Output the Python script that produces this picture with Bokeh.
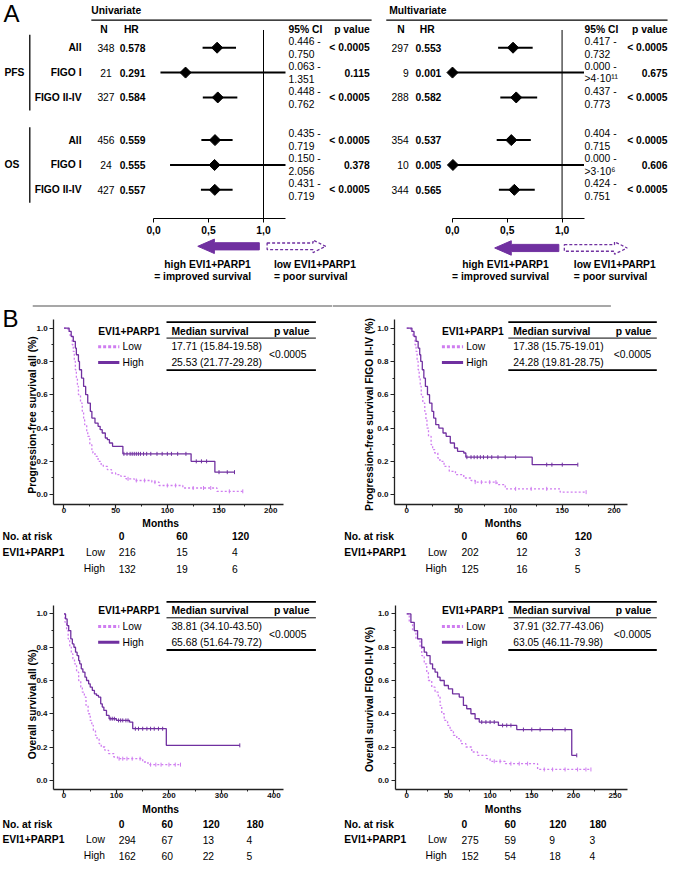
import numpy as np
from bokeh.plotting import figure
from bokeh.models import (Range1d, LinearAxis, FixedTicker, SingleIntervalTicker,
                          NumeralTickFormatter, CustomJSTickFormatter)
from bokeh.layouts import column, row
from bokeh.embed import file_html
from bokeh.resources import INLINE
from bokeh.core.properties import value

# ======================= DATA =======================
outcomes = ["PFS", "OS"]
subgroups = ["All", "FIGO I", "FIGO II-IV"]

uni_n = [348, 21, 327, 456, 24, 427]
uni_hr = [0.578, 0.291, 0.584, 0.559, 0.555, 0.557]
uni_ci_low = [0.446, 0.063, 0.448, 0.435, 0.150, 0.431]
uni_ci_high = [0.750, 1.351, 0.762, 0.719, 2.056, 0.719]
uni_ci_high_text = ["0.750", "1.351", "0.762", "0.719", "2.056", "0.719"]
uni_p = ["< 0.0005", "0.115", "< 0.0005", "< 0.0005", "0.378", "< 0.0005"]

multi_n = [297, 9, 288, 354, 10, 344]
multi_hr = [0.553, 0.001, 0.582, 0.537, 0.005, 0.565]
multi_ci_low = [0.417, 0.000, 0.437, 0.404, 0.000, 0.424]
multi_ci_high = [0.732, 4e11, 0.773, 0.715, 3e6, 0.751]
multi_ci_high_text = ["0.732", ">4·10¹¹", "0.773", "0.715", ">3·10⁶", "0.751"]
multi_p = ["< 0.0005", "0.675", "< 0.0005", "< 0.0005", "0.606", "< 0.0005"]

hr_ticks = [0.0, 0.5, 1.0]
hr_axis_max = 1.2

# Kaplan-Meier curves (months, survival after step)
km1_high_t = [0, 5, 7, 9, 11, 12, 14, 15, 17, 19, 21, 23, 25.5, 27, 30, 33, 35, 37, 40, 42, 44, 47, 57, 123, 146, 165]
km1_high_s = [1.0, 0.98, 0.95, 0.92, 0.88, 0.84, 0.80, 0.75, 0.70, 0.65, 0.60, 0.55, 0.50, 0.46, 0.43, 0.41, 0.39, 0.37, 0.34, 0.33, 0.31, 0.29, 0.245, 0.20, 0.135, 0.135]
km1_low_t = [0, 4, 6, 8, 9, 10, 11, 12, 13, 14, 16, 17.7, 19, 20, 22, 23, 25, 27, 28, 30, 33, 36, 38, 42, 46, 50, 55, 60, 68, 85, 92, 115, 148, 173]
km1_low_s = [1.0, 0.98, 0.95, 0.9, 0.86, 0.8, 0.75, 0.7, 0.65, 0.6, 0.55, 0.5, 0.45, 0.42, 0.38, 0.35, 0.3, 0.27, 0.25, 0.23, 0.2, 0.18, 0.17, 0.15, 0.13, 0.12, 0.11, 0.095, 0.085, 0.075, 0.055, 0.04, 0.02, 0.02]
km1_high_cens = [58, 61, 64, 66, 68, 70, 72, 74, 77, 80, 84, 90, 95, 100, 104, 110, 118, 128, 133, 138, 150, 158, 165]
km1_low_cens = [62, 70, 78, 88, 100, 108, 125, 135, 142, 160, 173]

km2_high_t = [0, 5, 7, 9, 11, 12.5, 13.5, 15, 16.5, 18, 20, 22, 24.3, 26, 28, 31, 35, 38, 42, 46, 49, 55, 57, 121, 165]
km2_high_s = [1.0, 0.98, 0.95, 0.92, 0.88, 0.84, 0.80, 0.75, 0.70, 0.65, 0.60, 0.55, 0.50, 0.46, 0.42, 0.40, 0.37, 0.35, 0.31, 0.28, 0.26, 0.25, 0.225, 0.18, 0.18]
km2_low_t = [0, 4, 6, 8, 9, 10, 11, 12, 13, 14, 15.5, 17.4, 18.5, 19.5, 21, 23.5, 25, 27, 30, 32, 36, 41, 47, 55, 62, 66, 87, 95, 148, 173]
km2_low_s = [1.0, 0.98, 0.95, 0.9, 0.86, 0.8, 0.75, 0.7, 0.65, 0.6, 0.55, 0.5, 0.45, 0.4, 0.35, 0.3, 0.27, 0.25, 0.22, 0.2, 0.17, 0.14, 0.12, 0.1, 0.085, 0.075, 0.06, 0.035, 0.015, 0.015]
km2_high_cens = [58, 62, 65, 68, 71, 74, 78, 82, 88, 95, 105, 135, 140, 150, 165]
km2_low_cens = [66, 72, 80, 86, 105, 120, 135, 173]

km3_high_t = [0, 3, 6, 9, 13, 16, 19, 22, 25, 28, 30, 33, 36, 40, 43, 47, 50, 54, 58, 62, 65.7, 70, 73, 76, 81, 86, 100, 125, 131, 195, 335]
km3_high_s = [1.0, 0.97, 0.93, 0.9, 0.85, 0.82, 0.8, 0.77, 0.75, 0.72, 0.7, 0.67, 0.65, 0.62, 0.6, 0.58, 0.56, 0.54, 0.52, 0.51, 0.5, 0.46, 0.44, 0.42, 0.39, 0.37, 0.36, 0.35, 0.31, 0.21, 0.21]
km3_low_t = [0, 2, 5, 8, 11, 14, 17, 20, 24, 28, 32, 35, 38.8, 42, 46, 50, 53, 56, 60, 63, 67, 71, 78, 85, 95, 102, 150, 160, 222]
km3_low_s = [1.0, 0.95, 0.9, 0.85, 0.8, 0.76, 0.73, 0.7, 0.65, 0.6, 0.56, 0.53, 0.5, 0.45, 0.4, 0.36, 0.33, 0.3, 0.27, 0.25, 0.22, 0.2, 0.18, 0.16, 0.14, 0.13, 0.11, 0.094, 0.094]
km3_high_cens = [88, 92, 96, 104, 108, 112, 118, 122, 136, 142, 150, 158, 165, 172, 180, 188, 335]
km3_low_cens = [105, 112, 120, 130, 145, 165, 175, 185, 200, 212, 222]

km4_high_t = [0, 5, 9, 13, 18, 21, 24, 28, 31, 34, 37, 40, 45, 50, 55, 63, 68, 72, 77, 82, 87, 110, 132, 198, 204]
km4_high_s = [1.0, 0.95, 0.9, 0.85, 0.8, 0.77, 0.75, 0.7, 0.67, 0.65, 0.62, 0.6, 0.57, 0.55, 0.52, 0.5, 0.45, 0.43, 0.4, 0.37, 0.35, 0.33, 0.305, 0.15, 0.15]
km4_low_t = [0, 3, 7, 11, 16, 18, 21, 24, 26, 30, 34, 37.9, 40, 42, 45, 49, 52, 56, 60, 65, 71, 78, 85, 96, 100, 118, 157, 221]
km4_low_s = [1.0, 0.95, 0.9, 0.85, 0.8, 0.75, 0.7, 0.65, 0.6, 0.56, 0.53, 0.5, 0.45, 0.4, 0.36, 0.33, 0.3, 0.27, 0.25, 0.22, 0.2, 0.17, 0.15, 0.13, 0.114, 0.1, 0.065, 0.065]
km4_high_cens = [90, 95, 100, 105, 115, 120, 125, 140, 150, 160, 175, 190, 204]
km4_low_cens = [105, 112, 125, 135, 145, 165, 175, 190, 205, 215, 221]

km1_risk_t = [0, 60, 120]; km1_risk_low = [216, 15, 4]; km1_risk_high = [132, 19, 6]
km2_risk_t = [0, 60, 120]; km2_risk_low = [202, 12, 3]; km2_risk_high = [125, 16, 5]
km3_risk_t = [0, 60, 120, 180]; km3_risk_low = [294, 67, 13, 4]; km3_risk_high = [162, 60, 22, 5]
km4_risk_t = [0, 60, 120, 180]; km4_risk_low = [275, 59, 9, 3]; km4_risk_high = [152, 54, 18, 4]

km1_median = ["17.71 (15.84-19.58)", "25.53 (21.77-29.28)"]
km2_median = ["17.38 (15.75-19.01)", "24.28 (19.81-28.75)"]
km3_median = ["38.81 (34.10-43.50)", "65.68 (51.64-79.72)"]
km4_median = ["37.91 (32.77-43.06)", "63.05 (46.11-79.98)"]
km_pvalue = "<0.0005"

# ======================= STYLE / LAYOUT =======================
SX = 669 / 685
SY = 862 / 878
FONT = "Liberation Sans"
FS = 10.3
PURPLE = "#7030A0"
HIGH_C = "#7030A0"
LOW_C = "#CF7DF0"


def lin(a, pa, b, pb):
    k = (b - a) / (pb - pa)
    return lambda px: a + (px - pa) * k


def canvas(x0, x1, y0, y1, fx, fy):
    w = round(x1 * SX) - round(x0 * SX)
    h = round(y1 * SY) - round(y0 * SY)
    p = figure(width=w, height=h, x_range=Range1d(fx(x0), fx(x1)),
               y_range=Range1d(fy(y1), fy(y0)), x_axis_type=None, y_axis_type=None,
               toolbar_location=None, output_backend="svg", min_border=0,
               outline_line_color=None, background_fill_color="white",
               border_fill_color="white")
    p.extra_x_ranges = {"px": Range1d(x0, x1)}
    p.extra_y_ranges = {"px": Range1d(y1, y0)}
    return p


def T(p, x, y, s, size=FS, bold=False, align="left", angle=0.0, color="black",
      xr="px", yr="px"):
    if not isinstance(s, (list, tuple)):
        x, y, s = [x], [y], [s]
    else:
        if not isinstance(x, (list, tuple, np.ndarray)):
            x = [x] * len(s)
        if not isinstance(y, (list, tuple, np.ndarray)):
            y = [y] * len(s)
    p.text(x=list(x), y=list(y), text=[str(v) for v in s], x_range_name=xr,
           y_range_name=yr, text_font=value(FONT), text_font_size=f"{size}px",
           text_font_style="bold" if bold else "normal", text_align=align,
           text_baseline="middle", angle=angle, text_color=color)


def L(p, xa, ya, xb, yb, w=1.0, color="black", dash="solid"):
    p.segment(x0=[xa], y0=[ya], x1=[xb], y1=[yb], x_range_name="px",
              y_range_name="px", line_width=w, line_color=color, line_dash=dash)


def arrow(p, xt, xh, y, shaft, head, hlen, solid):
    s = 1 if xh > xt else -1
    xb = xh - s * hlen
    xs = [xt, xb, xb, xh, xb, xb, xt]
    ys = [y - shaft / 2, y - shaft / 2, y - head / 2, y, y + head / 2, y + shaft / 2, y + shaft / 2]
    if solid:
        p.patch(xs, ys, x_range_name="px", y_range_name="px", fill_color=PURPLE,
                line_color=PURPLE, line_width=1)
    else:
        p.patch(xs, ys, x_range_name="px", y_range_name="px", fill_color="white",
                line_color=PURPLE, line_width=1.3, line_dash="3 2")


def style_axis(ax, size, standoff):
    ax.axis_line_color = "#222"
    ax.axis_line_width = 1.3
    ax.major_tick_line_color = "#222"
    ax.major_tick_line_width = 1.2
    ax.major_tick_out = 4
    ax.major_tick_in = 0
    ax.minor_tick_line_color = "#222"
    ax.minor_tick_out = 2
    ax.minor_tick_in = 0
    ax.major_label_text_font = FONT
    ax.major_label_text_font_size = f"{size}px"
    ax.major_label_text_font_style = "bold"
    ax.major_label_text_color = "#111"
    ax.major_label_standoff = standoff


# forest row positions (row units), groups separated by a gap
GAP = 0.715
row_pos = []
for g, o in enumerate(outcomes):
    for j, s in enumerate(subgroups):
        row_pos.append(g * (len(subgroups) + GAP) + j)
row_pos = np.array(row_pos)


def forest(region, hr0_px, hr1_px, n, hr, lo, hi, hi_txt, pv, lay):
    x0, x1, y0, y1 = region
    fx = lin(0, hr0_px, 1, hr1_px)
    fy = lin(0, 48, 1, 73.3)
    p = canvas(x0, x1, y0, y1, fx, fy)
    # reference line at HR = 1
    p.segment(x0=[1.0], y0=[fy(30)], x1=[1.0], y1=[fy(222)], line_color="black", line_width=1)
    # CI whiskers (clipped at the axis end) and HR diamonds
    p.segment(x0=lo, y0=row_pos, x1=np.minimum(np.array(hi), hr_axis_max), y1=row_pos,
              line_color="black", line_width=2)
    p.scatter(hr, row_pos, marker="square", angle=np.pi / 4, size=7.8, color="black")
    ax = LinearAxis(fixed_location=fy(222), bounds=(0, hr_axis_max),
                    ticker=FixedTicker(ticks=hr_ticks, minor_ticks=[]),
                    formatter=CustomJSTickFormatter(code="return tick.toFixed(1).replace('.', ',')"))
    style_axis(ax, FS, 3)
    ax.axis_line_color = "black"
    ax.axis_line_width = 1
    ax.major_tick_line_color = "black"
    ax.major_tick_line_width = 1
    ax.major_tick_out = 4
    ax.major_label_text_color = "black"
    p.add_layout(ax, "below")

    # title + line
    T(p, lay["title_x"], 10, lay["title"], bold=True)
    L(p, lay["line"][0], 20, lay["line"][1], 20, w=1.2)
    # headers
    T(p, lay["n_hdr"], 29.5, "N", bold=True, align="center")
    T(p, lay["hr_hdr"], 29.5, "HR", bold=True, align="center")
    T(p, lay["ci_x"], 29.5, "95% CI", bold=True)
    T(p, lay["p_x"], 29.5, "p value", bold=True, align="right")
    # columns
    T(p, lay["n_x"], row_pos, [str(v) for v in n], align=lay["n_align"], yr="default")
    T(p, lay["hr_x"], row_pos, [f"{v:.3f}" for v in hr], bold=True, yr="default")
    T(p, lay["ci_x"], row_pos - 0.25, [f"{v:.3f} -" for v in lo], yr="default")
    T(p, lay["ci_x"], row_pos + 0.25, list(hi_txt), yr="default")
    T(p, lay["p_x"], row_pos, list(pv), bold=True, align="right", yr="default")
    # arrows and their captions
    arrow(p, lay["solid"][0], lay["solid"][1], lay["arrow_y"], 7.3, 14.7, 17, True)
    arrow(p, lay["dashed"][0], lay["dashed"][1], lay["arrow_y"], 6.7, 12.7, 13, False)
    T(p, lay["high_cx"], 268, "high EVI1+PARP1", bold=True, align="center")
    T(p, lay["high_cx"] - 5, 281, "= improved survival", bold=True, align="center")
    T(p, lay["low_x"], 268, "low EVI1+PARP1", bold=True)
    T(p, lay["low_x"], 281, "= poor survival", bold=True)
    return p, fy


# ---------- Panel A ----------
fu, fyu = forest((0, 385, 0, 298), 156.7, 269.3, uni_n, uni_hr, uni_ci_low, uni_ci_high,
                 uni_ci_high_text, uni_p,
                 dict(title="Univariate", title_x=93, line=(93, 380), n_hdr=106, hr_hdr=134,
                      n_x=108, n_align="center", hr_x=122, ci_x=295, p_x=378,
                      solid=(265, 202), dashed=(273, 333), arrow_y=250, high_cx=212, low_x=280))
T(fu, 3, 13, "A", size=24)
# outcome groups, brackets and subgroup labels
for g, o in enumerate(outcomes):
    rp = row_pos[g * len(subgroups):(g + 1) * len(subgroups)]
    T(fu, 4, rp[1], o, bold=True, yr="default")
    fu.segment(x0=[30], y0=[rp[0] - 0.52], x1=[30], y1=[rp[-1] + 0.52], x_range_name="px",
               line_color="black", line_width=1.3)
    T(fu, 83, rp, subgroups, bold=True, align="right", yr="default")

fm, fym = forest((385, 685, 0, 298), 462.7, 575, multi_n, multi_hr, multi_ci_low, multi_ci_high,
                 multi_ci_high_text, multi_p,
                 dict(title="Multivariate", title_x=398, line=(395, 683), n_hdr=410, hr_hdr=437,
                      n_x=418, n_align="right", hr_x=425, ci_x=598, p_x=683,
                      solid=(571.7, 506), dashed=(577.3, 641.7), arrow_y=251.7, high_cx=517,
                      low_x=587))


# ---------- Panel B ----------
def surv_at(t, s, ct):
    idx = np.searchsorted(np.array(t), np.array(ct), side="right") - 1
    return np.array(s)[idx]


def km(cfg, ht, hs, lt, ls, hc, lc, risk_t, risk_low, risk_high, med, ylabel):
    x0, x1, y0, y1 = cfg["region"]
    fx = lin(0, cfg["m0"], cfg["m1"][0], cfg["m1"][1])
    fy = lin(0, cfg["s0"], 1, cfg["s1"])
    p = canvas(x0, x1, y0, y1, fx, fy)

    xax = LinearAxis(fixed_location=fy(cfg["xaxis_y"]),
                     bounds=(fx(cfg["yaxis_x"]), fx(cfg["xright"])),
                     ticker=SingleIntervalTicker(interval=cfg["xstep"], num_minor_ticks=2))
    style_axis(xax, 8, 0)
    yax = LinearAxis(fixed_location=fx(cfg["yaxis_x"]),
                     bounds=(fy(cfg["xaxis_y"]), fy(cfg["ytop"])),
                     ticker=SingleIntervalTicker(interval=0.2, num_minor_ticks=2),
                     formatter=NumeralTickFormatter(format="0.0"))
    style_axis(yax, 8, 2)
    p.add_layout(xax, "below")
    p.add_layout(yax, "left")

    # curves
    p.step(lt, ls, mode="after", line_color=LOW_C, line_width=1.3, line_dash="2 2")
    p.step(ht, hs, mode="after", line_color=HIGH_C, line_width=1.3)
    p.scatter(lc, surv_at(lt, ls, lc), marker="dash", angle=np.pi / 2, size=4,
              line_color=LOW_C, line_width=1)
    p.scatter(hc, surv_at(ht, hs, hc), marker="dash", angle=np.pi / 2, size=4,
              line_color=HIGH_C, line_width=1)

    # axis titles
    T(p, cfg["months_x"], cfg["months_y"], "Months", bold=True, align="center")
    T(p, cfg["ylab"][0], cfg["ylab"][1], ylabel, bold=True, align="center", angle=np.pi / 2)

    # legend + median table
    ty = cfg["top_y"]
    lx = cfg["leg_x"]
    T(p, lx, ty + 9.2, "EVI1+PARP1", bold=True)
    L(p, lx, ty + 25, lx + 21.7, ty + 25, w=3, color=LOW_C, dash="3 2")
    L(p, lx, ty + 41, lx + 21.7, ty + 41, w=3, color=HIGH_C)
    T(p, lx + 25, ty + 25, "Low")
    T(p, lx + 25, ty + 41, "High")
    ta, tb = cfg["tab"]
    L(p, ta, ty, tb, ty, w=1.8)
    L(p, ta, ty + 16.2, tb, ty + 16.2, w=1)
    L(p, ta, ty + 49, tb, ty + 49, w=1.8)
    T(p, cfg["med_x"], ty + 9.2, "Median survival", bold=True)
    T(p, cfg["p_x"], ty + 9.2, "p value", bold=True)
    T(p, cfg["med_x"], ty + 25, med[0])
    T(p, cfg["med_x"], ty + 41, med[1])
    T(p, cfg["pv_x"], ty + 33.3, km_pvalue)

    # numbers at risk
    ry = cfg["risk_y"]
    cols = cfg["risk_cols"]
    T(p, cfg["risk_x"], ry[0], "No. at risk", bold=True)
    T(p, cols, ry[0], [str(v) for v in risk_t], bold=True)
    T(p, cfg["risk_x"], ry[1], "EVI1+PARP1", bold=True)
    T(p, cfg["risk_lab"], ry[1], "Low", align="right")
    T(p, cfg["risk_lab"], ry[2], "High", align="right")
    T(p, cols, ry[1], [str(v) for v in risk_low])
    T(p, cols, ry[2], [str(v) for v in risk_high])
    return p


row1 = dict(s0=503.3, s1=333.3, xaxis_y=513.3, ytop=325, months_y=533, top_y=327.3,
            risk_y=(546, 562.3, 579))
row2 = dict(s0=794.3, s1=625, xaxis_y=803.3, ytop=616.7, months_y=824, top_y=612.7,
            risk_y=(839, 855, 871))
left = dict(leg_x=100, tab=(170, 323), med_x=175, p_x=280, pv_x=275, risk_x=2, risk_lab=107,
            months_x=164, m0=65)
right = dict(leg_x=452, tab=(520, 672), med_x=525, p_x=630, pv_x=628, risk_x=352, risk_lab=457,
             months_x=514.7, m0=416)

cfg1 = dict(**row1, **left, region=(0, 340, 298, 595), m1=(200, 276.7), yaxis_x=54.5,
            xright=290, xstep=50, ylab=(33, 422), risk_cols=[121, 180, 237])
cfg2 = dict(**row1, **right, region=(340, 685, 298, 595), m1=(200, 628.3), yaxis_x=403.3,
            xright=642, xstep=50, ylab=(378, 421.5), risk_cols=[472, 528, 588])
cfg3 = dict(**row2, **left, region=(0, 340, 595, 878), m1=(400, 280), yaxis_x=54.3,
            xright=290, xstep=100, ylab=(33, 717), risk_cols=[121, 165, 207, 252])
cfg4 = dict(**row2, **right, region=(340, 685, 595, 878), m1=(250, 629.3), yaxis_x=404,
            xright=642, xstep=50, ylab=(378, 712), risk_cols=[472, 516, 562, 603])

k1 = km(cfg1, km1_high_t, km1_high_s, km1_low_t, km1_low_s, km1_high_cens, km1_low_cens,
        km1_risk_t, km1_risk_low, km1_risk_high, km1_median, "Progression-free survival all (%)")
k2 = km(cfg2, km2_high_t, km2_high_s, km2_low_t, km2_low_s, km2_high_cens, km2_low_cens,
        km2_risk_t, km2_risk_low, km2_risk_high, km2_median, "Progression-free survival FIGO II-IV (%)")
k3 = km(cfg3, km3_high_t, km3_high_s, km3_low_t, km3_low_s, km3_high_cens, km3_low_cens,
        km3_risk_t, km3_risk_low, km3_risk_high, km3_median, "Overall survival all (%)")
k4 = km(cfg4, km4_high_t, km4_high_s, km4_low_t, km4_low_s, km4_high_cens, km4_low_cens,
        km4_risk_t, km4_risk_low, km4_risk_high, km4_median, "Overall survival FIGO II-IV (%)")

# separator between panels and panel letter
L(k1, 33, 310.7, 340, 310.7, w=1.5, color="#8a8a8a")
L(k2, 340, 310.7, 625, 310.7, w=1.5, color="#8a8a8a")
T(k1, 2, 324, "B", size=24)

layout = column(row(fu, fm), row(k1, k2), row(k3, k4))
open("out.html", "w").write(file_html(layout, INLINE))
